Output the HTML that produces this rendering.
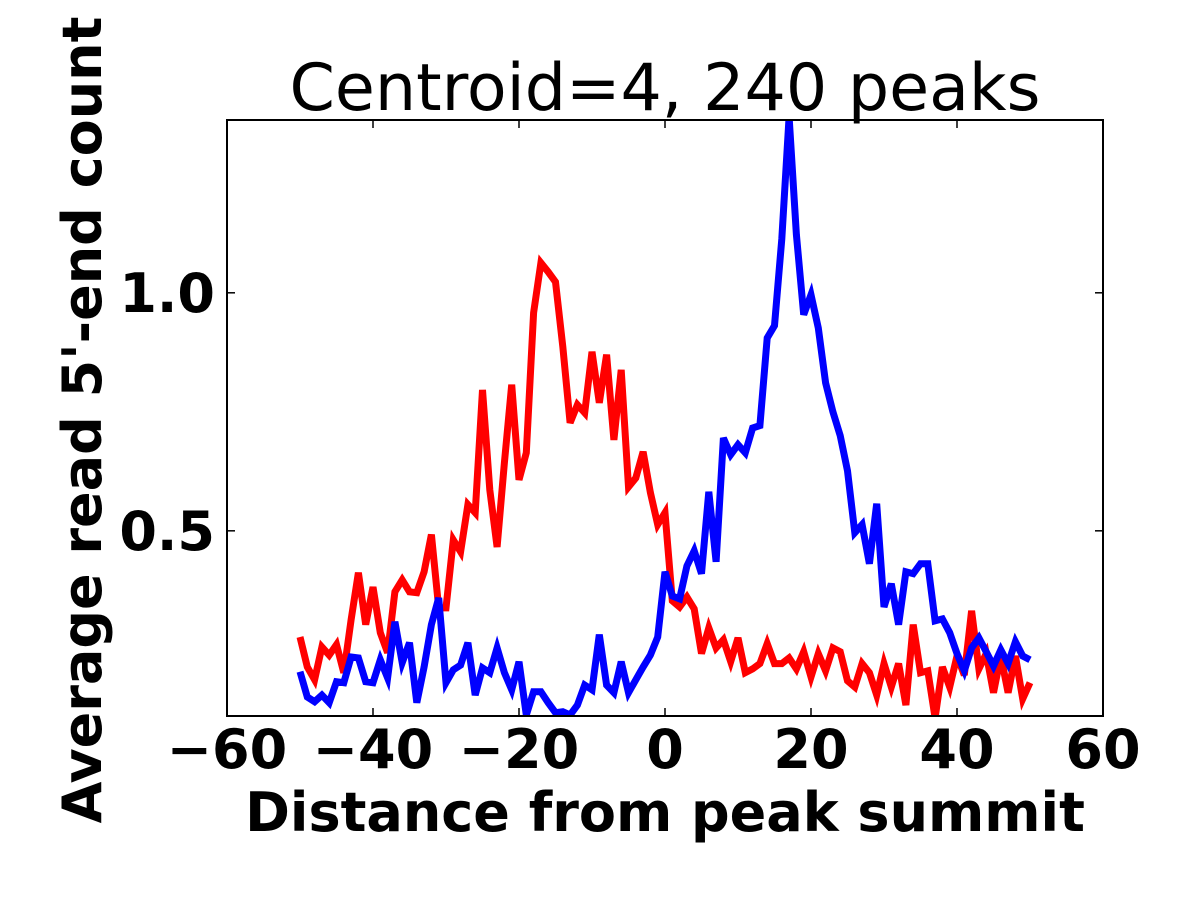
<!DOCTYPE html>
<html><head><meta charset="utf-8"><style>
html,body{margin:0;padding:0;background:#fff;}
svg{display:block;font-family:"DejaVu Sans","Liberation Sans",sans-serif;}
</style></head><body>
<svg id="chart" width="1200" height="900" xmlns="http://www.w3.org/2000/svg">
<defs><clipPath id="clip"><rect x="227" y="120" width="876" height="596"/></clipPath></defs>
<text x="665" y="110" text-anchor="middle" font-size="65">Centroid=4, 240 peaks</text>
<g id="series" clip-path="url(#clip)"></g>
<rect x="227" y="120" width="876" height="596" fill="none" stroke="#000" stroke-width="2"/>
<g id="axes"></g>
<text x="665" y="831" text-anchor="middle" font-size="54" font-weight="bold">Distance from peak summit</text>
<text transform="translate(101,420) rotate(-90)" text-anchor="middle" font-size="54" font-weight="bold">Average read 5'-end count</text>
</svg>
<script>
const xValues = [];
for (let i = -50; i <= 50; i++) xValues.push(i);
const redValues = [0.277,0.214,0.187,0.256,0.239,0.261,0.202,0.313,0.412,0.303,0.382,0.286,0.244,0.372,0.397,0.372,0.370,0.414,0.492,0.338,0.338,0.481,0.456,0.555,0.538,0.796,0.586,0.466,0.643,0.807,0.607,0.664,0.958,1.063,1.044,1.023,0.887,0.727,0.765,0.748,0.876,0.769,0.870,0.691,0.838,0.592,0.611,0.666,0.580,0.513,0.538,0.353,0.340,0.361,0.336,0.242,0.296,0.254,0.271,0.225,0.275,0.202,0.210,0.221,0.263,0.221,0.221,0.233,0.210,0.246,0.193,0.242,0.206,0.254,0.246,0.185,0.172,0.221,0.202,0.155,0.221,0.172,0.221,0.134,0.303,0.202,0.206,0.107,0.214,0.172,0.237,0.197,0.332,0.210,0.242,0.160,0.237,0.160,0.237,0.147,0.181];
const blueValues = [0.204,0.151,0.141,0.155,0.139,0.183,0.181,0.235,0.233,0.183,0.181,0.229,0.191,0.309,0.223,0.265,0.139,0.214,0.303,0.359,0.181,0.208,0.218,0.265,0.155,0.212,0.202,0.254,0.202,0.166,0.225,0.113,0.162,0.162,0.139,0.118,0.120,0.113,0.134,0.176,0.166,0.282,0.176,0.160,0.225,0.160,0.187,0.214,0.239,0.277,0.414,0.363,0.357,0.426,0.458,0.410,0.582,0.435,0.695,0.660,0.681,0.664,0.716,0.721,0.905,0.931,1.113,1.370,1.122,0.954,0.996,0.926,0.811,0.750,0.700,0.626,0.496,0.513,0.431,0.557,0.340,0.389,0.303,0.414,0.410,0.431,0.431,0.311,0.315,0.286,0.242,0.206,0.254,0.275,0.246,0.216,0.250,0.221,0.267,0.237,0.229];
const xTicks = [-60,-40,-20,0,20,40,60];
const xTickLabels = ["\u221260","\u221240","\u221220","0","20","40","60"];
const yTicks = [0.5,1.0];
const yTickLabels = ["0.5","1.0"];
const xMin=-60,xMax=60,yMin=0.111,yMax=1.363;
const L=227,R=1103,T=120,B=716;
const NS="http://www.w3.org/2000/svg";
function sx(v){return L+(v-xMin)/(xMax-xMin)*(R-L);}
function sy(v){return B-(v-yMin)/(yMax-yMin)*(B-T);}
const series=document.getElementById('series');
function drawLine(vals,color,name){
  const p=document.createElementNS(NS,'path');
  let d='';
  vals.forEach((v,i)=>{d+=(i?'L':'M')+sx(xValues[i]).toFixed(1)+','+sy(v).toFixed(1);});
  p.setAttribute('d',d);p.setAttribute('fill','none');p.setAttribute('stroke',color);
  p.setAttribute('stroke-width','7');p.setAttribute('stroke-linejoin','miter');
  
  
  series.appendChild(p);
}
drawLine(redValues,'#ff0000','red-series-line');
drawLine(blueValues,'#0000ff','blue-series-line');
const axes=document.getElementById('axes');
function mk(tag,attrs){const e=document.createElementNS(NS,tag);for(const k in attrs)e.setAttribute(k,attrs[k]);axes.appendChild(e);return e;}
xTicks.forEach((t,i)=>{
  const x=sx(t);
  const a=mk('line',{x1:x,x2:x,y1:B,y2:B-8,stroke:'#000','stroke-width':1.5});
  
  
  const b=mk('line',{x1:x,x2:x,y1:T,y2:T+8,stroke:'#000','stroke-width':1.5});
  
  
  const tx=mk('text',{x:x,y:B+52,'text-anchor':'middle','font-size':54,'font-weight':'bold'});
  tx.textContent=xTickLabels[i];
  
  
});
yTicks.forEach((t,i)=>{
  const y=sy(t);
  const a=mk('line',{x1:L,x2:L+8,y1:y,y2:y,stroke:'#000','stroke-width':1.5});
  
  
  const b=mk('line',{x1:R,x2:R-8,y1:y,y2:y,stroke:'#000','stroke-width':1.5});
  
  
  const tx=mk('text',{x:L-12,y:y+19,'text-anchor':'end','font-size':54,'font-weight':'bold'});
  tx.textContent=yTickLabels[i];
  
  
});
</script>
</body></html>
